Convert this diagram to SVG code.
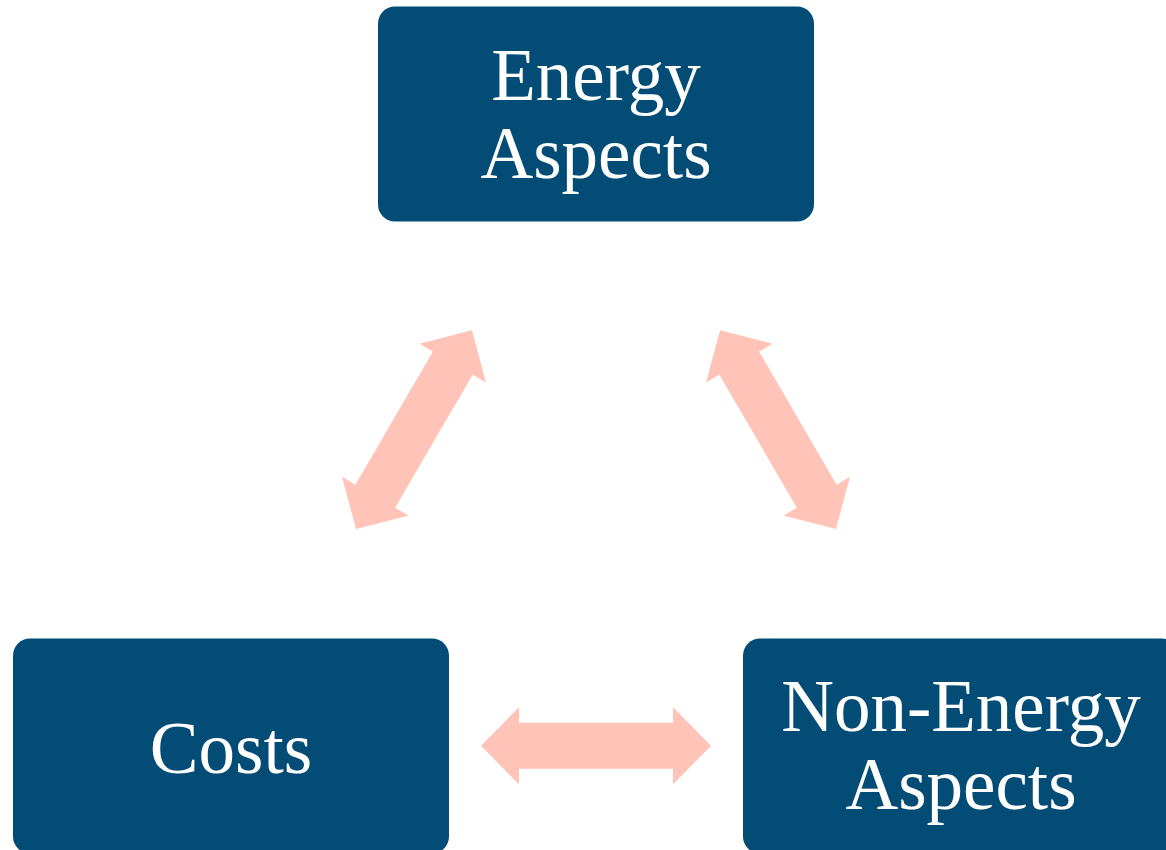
<svg xmlns="http://www.w3.org/2000/svg" width="1166" height="850" viewBox="0 0 1166 850">
<style>
.box{fill:#034C75;}
.lbl{font-family:"Liberation Serif","Times New Roman",serif;font-size:73px;fill:#FFFFFF;text-anchor:middle;}
.arr{fill:#FFC4B7;}
</style>
<defs>
<path id="dbl" d="M-115,0 L-77,-38.5 L-77,-23 L77,-23 L77,-38.5 L115,0 L77,38.5 L77,23 L-77,23 L-77,38.5 Z"/>
</defs>
<rect width="1166" height="850" fill="#FFFFFF"/>
<g id="connectors">
<use href="#dbl" class="arr" transform="translate(414,429.7) rotate(-59.76)"/>
<use href="#dbl" class="arr" transform="translate(778,429.7) rotate(59.76)"/>
<use href="#dbl" class="arr" transform="translate(596,745.8)"/>
</g>
<g id="energy">
<rect class="box" x="378" y="6.5" width="436" height="215" rx="17"/>
<text class="lbl" x="596" y="100">Energy</text>
<text class="lbl" x="596" y="178">Aspects</text>
</g>
<g id="costs">
<rect class="box" x="13" y="638.5" width="436" height="215" rx="17"/>
<text class="lbl" x="231" y="773">Costs</text>
</g>
<g id="nonenergy">
<rect class="box" x="743" y="638.5" width="436" height="215" rx="17"/>
<text class="lbl" x="961" y="731">Non-Energy</text>
<text class="lbl" x="961" y="809">Aspects</text>
</g>
</svg>
